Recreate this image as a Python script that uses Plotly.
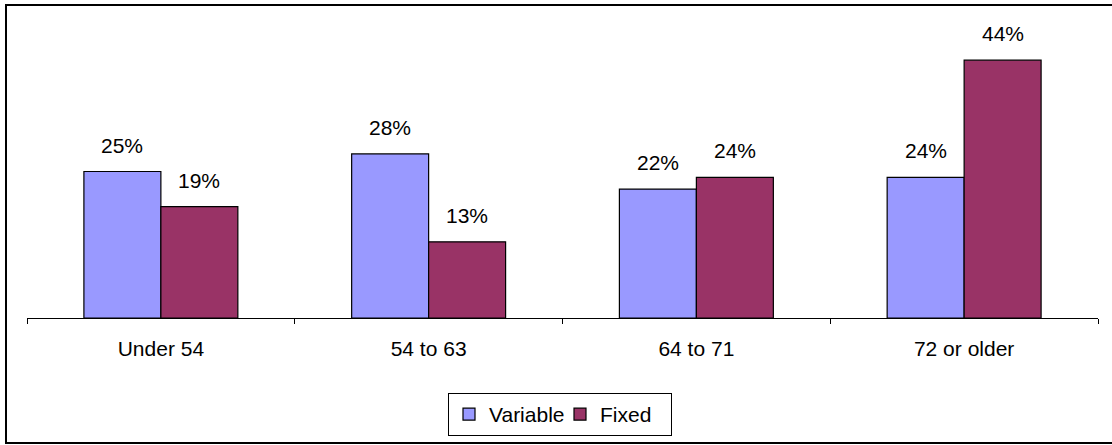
import plotly.graph_objects as go

categories = ["Under 54", "54 to 63", "64 to 71", "72 or older"]
variable = [25, 28, 22, 24]
fixed = [19, 13, 24, 44]

VAR_COLOR = "#9999FF"
FIX_COLOR = "#993366"
FONT = "Liberation Sans, Arial, sans-serif"

W, H = 1112, 445
L, R, T, B = 27, 14, 25, 127
plot_w = W - L - R
plot_h = H - T - B

fig = go.Figure()
fig.add_trace(go.Bar(
    x=categories, y=variable, name="Variable",
    marker=dict(color=VAR_COLOR, line=dict(color="black", width=1.2)),
))
fig.add_trace(go.Bar(
    x=categories, y=fixed, name="Fixed",
    marker=dict(color=FIX_COLOR, line=dict(color="black", width=1.2)),
))

# value labels above each bar
half = (1 - 0.425) / 4
for i, (v, f) in enumerate(zip(variable, fixed)):
    for off, val in ((-half, v), (half, f)):
        fig.add_annotation(
            x=i + off, y=val, text=f"{val}%", showarrow=False,
            xref="x", yref="y", yanchor="bottom", yshift=13,
            font=dict(family=FONT, size=21, color="black"),
        )

# frame around the whole chart
def px_to_paper_x(px):
    return (px - L) / plot_w

def px_to_paper_y(py):
    return (H - B - py) / plot_h

fig.add_shape(
    type="rect", xref="paper", yref="paper",
    x0=px_to_paper_x(6), x1=px_to_paper_x(1116),
    y0=px_to_paper_y(443), y1=px_to_paper_y(5),
    line=dict(color="black", width=2), fillcolor="rgba(0,0,0,0)", layer="below",
)

fig.update_layout(
    width=W, height=H,
    margin=dict(l=L, r=R, t=T, b=B),
    paper_bgcolor="white", plot_bgcolor="white",
    barmode="group", bargap=0.425, bargroupgap=0,
    font=dict(family=FONT, size=21, color="black"),
    xaxis=dict(
        type="category", range=[-0.5, 3.5],
        showline=True, linecolor="black", linewidth=1.2,
        ticks="outside", tickson="boundaries", ticklen=5, tickcolor="black",
        tickfont=dict(family=FONT, size=21, color="black"),
        ticklabelstandoff=12,
        showgrid=False, zeroline=False,
    ),
    yaxis=dict(range=[0, 50], visible=False, showgrid=False, zeroline=False),
    legend=dict(
        orientation="h",
        xref="container", x=560 / W, xanchor="center",
        yref="container", y=(H - 414.5) / H, yanchor="middle",
        bordercolor="black", borderwidth=1, bgcolor="white",
        font=dict(family=FONT, size=21, color="black"),
        itemwidth=30, entrywidth=66, tracegroupgap=0,
    ),
    showlegend=True,
)

fig.write_html("out.html")
